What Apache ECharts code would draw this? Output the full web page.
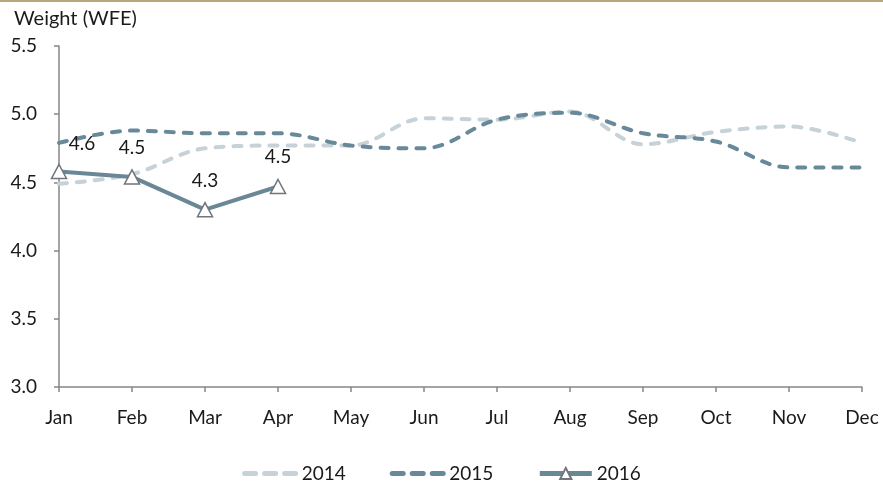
<!DOCTYPE html>
<html>
<head>
<meta charset="utf-8">
<script src="https://cdn.jsdelivr.net/npm/echarts@6/dist/echarts.min.js"></script>
<style>
  html, body { margin: 0; padding: 0; background: #fff; }
  #chart { width: 883px; height: 482px; }
</style>
</head>
<body>
<div id="chart"></div>
<script>
// 月份
const months = ['Jan', 'Feb', 'Mar', 'Apr', 'May', 'Jun', 'Jul', 'Aug', 'Sep', 'Oct', 'Nov', 'Dec'];
// 各年份数据
const data2014 = [4.49, 4.56, 4.75, 4.77, 4.77, 4.97, 4.96, 5.02, 4.78, 4.87, 4.91, 4.79];
const data2015 = [4.79, 4.88, 4.86, 4.86, 4.77, 4.75, 4.96, 5.01, 4.86, 4.80, 4.61, 4.61];
const data2016 = [4.58, 4.54, 4.30, 4.47];

const font = 'Lato, "Open Sans", sans-serif';
const fs = 19;
const chart = echarts.init(document.getElementById('chart'));

const dashed = (color) => ({
    width: 4,
    color: color,
    type: [8, 10],
    cap: 'round'
});

const option = {
    animation: false,
    textStyle: { fontFamily: font },
    // 顶部金色细线
    graphic: [{
        type: 'rect',
        shape: { x: 0, y: 0, width: 883, height: 2 },
        style: { fill: '#b8a87c' }
    }],
    title: {
        text: 'Weight (WFE)',
        left: 9,
        top: 4,
        textStyle: { fontSize: 20, fontWeight: 'normal', color: '#1a1a1a', fontFamily: font }
    },
    legend: {
        data: [
            { name: '2014', itemStyle: { opacity: 0 }, lineStyle: { width: 5, type: [11, 9], cap: 'round' } },
            { name: '2015', itemStyle: { opacity: 0 }, lineStyle: { width: 5, type: [11, 9], cap: 'round' } },
            { name: '2016', lineStyle: { width: 5 } }
        ],
        top: 459,
        left: 'center',
        itemWidth: 52,
        itemHeight: 14,
        itemGap: 44,
        textStyle: { fontSize: fs, color: '#1a1a1a', fontFamily: font }
    },
    grid: { left: 59, right: 21, top: 46, bottom: 95 },
    xAxis: {
        type: 'category',
        data: months,
        boundaryGap: false,
        axisLine: { lineStyle: { color: '#868686', width: 1.5 } },
        axisTick: { show: true, alignWithLabel: true, length: 5, lineStyle: { color: '#868686', width: 1.5 } },
        axisLabel: { color: '#1a1a1a', fontSize: fs, margin: 21, fontFamily: font },
        splitLine: { show: false }
    },
    yAxis: {
        type: 'value',
        min: 3,
        max: 5.5,
        interval: 0.5,
        axisLine: { show: true, lineStyle: { color: '#868686', width: 1.5 } },
        axisTick: { show: true, length: 5, lineStyle: { color: '#868686', width: 1.5 } },
        axisLabel: {
            color: '#1a1a1a', fontSize: fs, margin: 22, fontFamily: font,
            formatter: (v) => v.toFixed(1)
        },
        splitLine: { show: false }
    },
    series: [
        {
            name: '2014',
            type: 'line',
            data: data2014,
            smooth: 0.35,
            symbol: 'none',
            itemStyle: { color: '#c6d1d8' },
            lineStyle: dashed('#c6d1d8'),
            z: 1
        },
        {
            name: '2015',
            type: 'line',
            data: data2015,
            smooth: 0.35,
            symbol: 'none',
            itemStyle: { color: '#68899a' },
            lineStyle: dashed('#68899a'),
            z: 2
        },
        {
            name: '2016',
            type: 'line',
            data: data2016,
            symbol: 'triangle',
            symbolSize: [15, 14],
            itemStyle: { color: '#ffffff', borderColor: '#70767b', borderWidth: 1.5 },
            lineStyle: { width: 4, color: '#6a8796' },
            label: {
                show: true,
                position: 'top',
                distance: 12,
                color: '#1a1a1a',
                fontSize: fs,
                fontFamily: font,
                formatter: (p) => p.value.toFixed(1)
            },
            labelLayout: (params) => params.dataIndex === 0 ? { dx: 23, dy: 2 } : {},
            z: 3
        }
    ]
};

chart.setOption(option);
</script>
</body>
</html>
